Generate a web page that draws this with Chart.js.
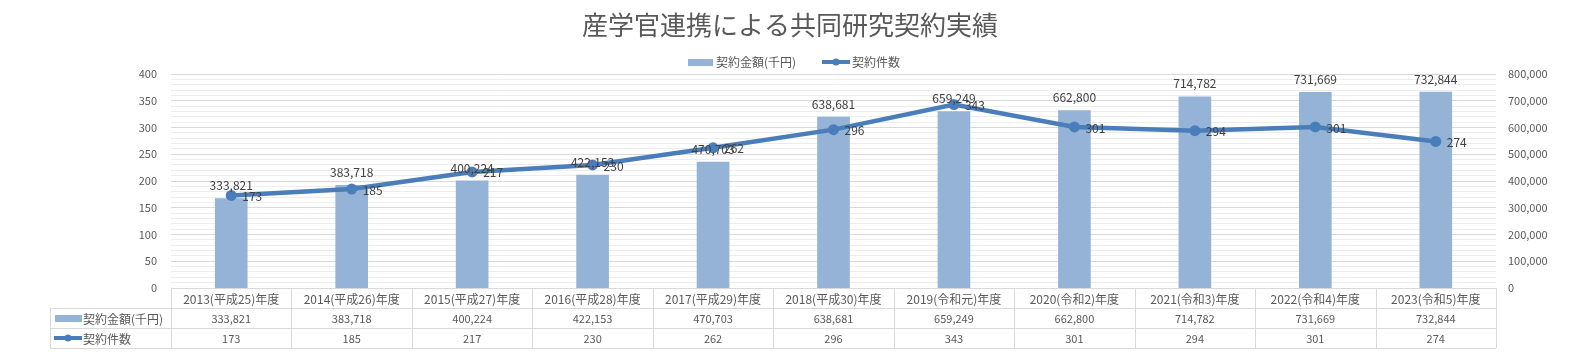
<!DOCTYPE html>
<html><head><meta charset="utf-8">
<script src="https://cdn.jsdelivr.net/npm/chart.js@4/dist/chart.umd.min.js"></script>
<style>html,body{margin:0;padding:0;background:#fff;}#wrap{width:1569px;height:355px;}</style>
</head><body><div id="wrap"><canvas id="c" width="1569" height="355"></canvas></div>
<script>
const title = '産学官連携による共同研究契約実績';
const categories = ['2013(平成25)年度','2014(平成26)年度','2015(平成27)年度','2016(平成28)年度','2017(平成29)年度','2018(平成30)年度','2019(令和元)年度','2020(令和2)年度','2021(令和3)年度','2022(令和4)年度','2023(令和5)年度'];
const amountLabel = '契約金額(千円)';
const amounts = [333821,383718,400224,422153,470703,638681,659249,662800,714782,731669,732844];
const countLabel = '契約件数';
const counts = [173,185,217,230,262,296,343,301,294,301,274];
const leftTicks = [0,50,100,150,200,250,300,350,400];
const rightTicks = [0,100000,200000,300000,400000,500000,600000,700000,800000];

const BAR = '#95b3d7', LINE = '#4a7ebb', TXT = '#595959', GRID = '#d9d9d9', MINOR = '#ededed';
const FF = '"Noto Sans CJK JP", "Noto Sans", sans-serif';
const fmt = v => v.toLocaleString('en-US');

const drawPlugin = {
  id: 'excelExtras',
  afterDatasetsDraw(chart) {
    const ctx = chart.ctx;
    const x = chart.scales.x, y = chart.scales.y, y1 = chart.scales.y1;
    ctx.save();
    ctx.fillStyle = '#404040';
    ctx.font = '12px ' + FF;
    ctx.textAlign = 'center'; ctx.textBaseline = 'middle';
    amounts.forEach((v, i) => {
      ctx.fillText(fmt(v), x.getPixelForValue(i), y1.getPixelForValue(v) - 13);
    });
    ctx.textAlign = 'left';
    counts.forEach((v, i) => {
      ctx.fillText(fmt(v), x.getPixelForValue(i) + 11, y.getPixelForValue(v) + 1);
    });
    ctx.restore();
  },
  afterDraw(chart) {
    const ctx = chart.ctx;
    const ca = chart.chartArea;
    const x = chart.scales.x;
    const n = categories.length;
    const cw = (ca.right - ca.left) / n;
    const top = ca.bottom, rh = 20, left = 50;
    ctx.save();
    ctx.fillStyle = TXT;
    ctx.font = '26px ' + FF;
    ctx.textAlign = 'center'; ctx.textBaseline = 'middle';
    ctx.fillText(title, 790, 25);
    ctx.font = '12px ' + FF;
    ctx.textAlign = 'left';
    ctx.fillStyle = BAR; ctx.fillRect(688, 59, 25, 7);
    ctx.fillStyle = TXT; ctx.fillText(amountLabel, 716, 62);
    ctx.strokeStyle = LINE; ctx.lineWidth = 4;
    ctx.beginPath(); ctx.moveTo(822, 62); ctx.lineTo(850, 62); ctx.stroke();
    ctx.fillStyle = LINE; ctx.beginPath(); ctx.arc(836, 62, 3.5, 0, Math.PI*2); ctx.fill();
    ctx.fillStyle = TXT; ctx.fillText(countLabel, 852, 62);
    ctx.strokeStyle = GRID; ctx.lineWidth = 1;
    ctx.beginPath();
    for (let r = 1; r <= 3; r++) {
      const yy = Math.round(top + r*rh) + 0.5;
      ctx.moveTo(left, yy); ctx.lineTo(ca.right, yy);
    }
    ctx.moveTo(left + 0.5, top + rh); ctx.lineTo(left + 0.5, top + 3*rh);
    for (let i = 0; i <= n; i++) {
      const xx = Math.round(ca.left + i*cw) + 0.5;
      ctx.moveTo(xx, top); ctx.lineTo(xx, top + 3*rh);
    }
    ctx.stroke();
    ctx.fillStyle = TXT; ctx.textAlign = 'center'; ctx.textBaseline = 'middle';
    for (let i = 0; i < n; i++) {
      const cx = x.getPixelForValue(i);
      ctx.font = '12px ' + FF;
      ctx.fillText(categories[i], cx, top + rh*0.5 + 1);
      ctx.font = '11px ' + FF;
      ctx.fillText(fmt(amounts[i]), cx, top + rh*1.5 + 1);
      ctx.fillText(fmt(counts[i]), cx, top + rh*2.5 + 1);
    }
    ctx.textAlign = 'left'; ctx.font = '12px ' + FF;
    ctx.fillStyle = BAR; ctx.fillRect(55, top + rh*1.5 - 3, 27, 7);
    ctx.fillStyle = TXT; ctx.fillText(amountLabel, 83, top + rh*1.5 + 1);
    ctx.strokeStyle = LINE; ctx.lineWidth = 4;
    ctx.beginPath(); ctx.moveTo(54, top + rh*2.5); ctx.lineTo(82, top + rh*2.5); ctx.stroke();
    ctx.fillStyle = LINE; ctx.beginPath(); ctx.arc(68, top + rh*2.5, 3.5, 0, Math.PI*2); ctx.fill();
    ctx.fillStyle = TXT; ctx.fillText(countLabel, 83, top + rh*2.5 + 1);
    ctx.restore();
  }
};

new Chart(document.getElementById('c'), {
  data: {
    labels: categories,
    datasets: [
      { type: 'line', label: countLabel, data: counts, yAxisID: 'y', borderColor: LINE, backgroundColor: LINE,
        borderWidth: 4.5, pointRadius: 5.5, pointHoverRadius: 5.5, pointBackgroundColor: LINE, pointBorderWidth: 0, tension: 0, order: 0 },
      { type: 'bar', label: amountLabel, data: amounts, yAxisID: 'y1', backgroundColor: BAR, barThickness: 32, order: 1 }
    ]
  },
  plugins: [drawPlugin],
  options: {
    responsive: false, animation: false, devicePixelRatio: 1,
    layout: { padding: { top: 74, left: 0, right: 0, bottom: 0 } },
    plugins: { legend: { display: false }, title: { display: false }, tooltip: { enabled: false } },
    scales: {
      x: { grid: { display: false, drawTicks: false }, border: { color: GRID }, ticks: { display: false },
           afterFit(s) { s.height = 67; } },
      y: { position: 'left', min: 0, max: 400,
           afterBuildTicks(s) { const t = []; for (let v = 0; v <= 400; v += 10) t.push({ value: v }); s.ticks = t; },
           ticks: { autoSkip: false, color: TXT, font: { family: FF, size: 11 }, padding: 14,
                    callback: v => leftTicks.includes(v) ? String(v) : '' },
           grid: { drawTicks: false, color: c => (c.tick && c.tick.value % 50 === 0) ? GRID : MINOR },
           border: { display: false },
           afterFit(s) { s.width = 171; } },
      y1: { position: 'right', min: 0, max: 800000,
            afterBuildTicks(s) { s.ticks = rightTicks.map(v => ({ value: v })); },
            ticks: { color: TXT, font: { family: FF, size: 11 }, padding: 12, callback: v => fmt(v) },
            grid: { display: false, drawTicks: false }, border: { display: false },
            afterFit(s) { s.width = 73; } }
    }
  }
});
</script></body></html>
